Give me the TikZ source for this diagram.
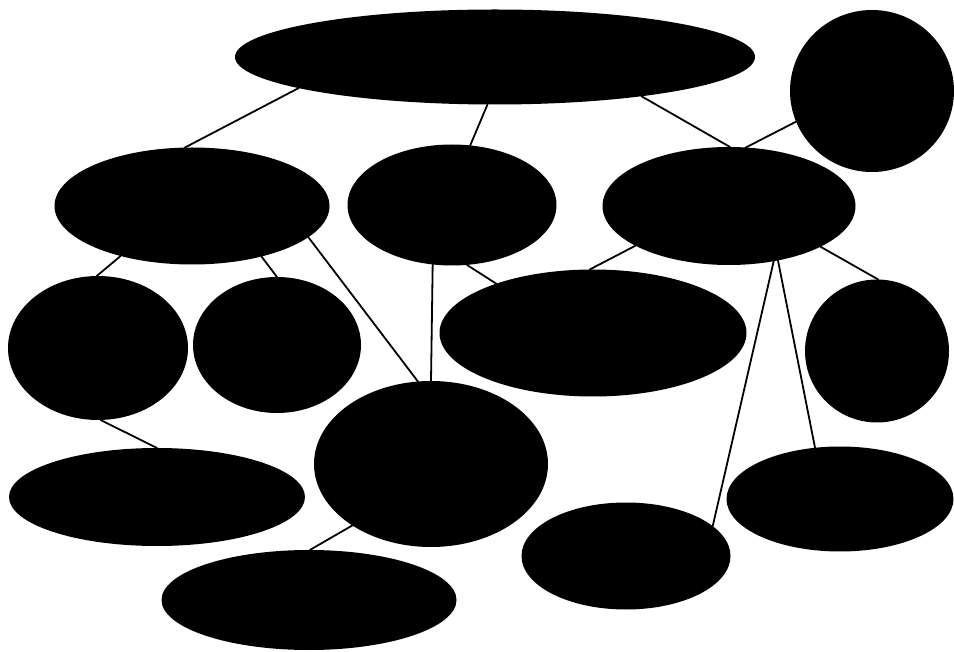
\documentclass[tikz,border=0pt]{standalone}
\usetikzlibrary{shapes.geometric}
\tikzset{blob/.style={
  ellipse,fill=black,inner sep=0pt,outer sep=0pt
},
link/.style={line width=1.8pt,line cap=round}}

\begin{document}
\begin{tikzpicture}[x=1pt,y=1pt]
  \useasboundingbox (0,0) rectangle (954,-652);

  \node[blob,minimum width=520pt,minimum height=95pt] (top) at (495,-57) {};
  \node[blob,minimum width=164pt,minimum height=162pt] (corner) at (872,-91) {};
  \node[blob,minimum width=275pt,minimum height=117pt] (left) at (192,-206) {};
  \node[blob,minimum width=209pt,minimum height=121pt] (mid) at (452,-205) {};
  \node[blob,minimum width=253pt,minimum height=118pt] (right) at (729,-206) {};
  \node[blob,minimum width=180pt,minimum height=144pt] (leftA) at (98,-348) {};
  \node[blob,minimum width=168pt,minimum height=136pt] (leftB) at (277,-345) {};
  \node[blob,minimum width=307pt,minimum height=127pt] (wide) at (593,-333) {};
  \node[blob,minimum width=144pt,minimum height=143pt] (side) at (877,-351) {};
  \node[blob,minimum width=234pt,minimum height=166pt] (centre) at (431,-464) {};
  \node[blob,minimum width=296pt,minimum height=98pt] (botleft) at (157,-497) {};
  \node[blob,minimum width=227pt,minimum height=105pt] (botright) at (840,-499) {};
  \node[blob,minimum width=209pt,minimum height=107pt] (botmid) at (626,-556) {};
  \node[blob,minimum width=295pt,minimum height=100pt] (bottom) at (309,-600) {};

  \draw[link] (top.189) -- (left.97);
  \draw[link] (top.261) -- (mid.73);
  \draw[link] (top.-15) -- (right.89);
  \draw[link] (corner.202.6) -- (right.74.6);
  \draw[link] (left.215) -- (leftA.91);
  \draw[link] (left.-36.9) -- (leftB.90);
  \draw[link] (left.-15.7) -- (centre.99.8);
  \draw[link] (mid.-108) -- (centre.90);
  \draw[link] (mid.-76.4) -- (wide.153);
  \draw[link] (right.203.6) -- (wide.93);
  \draw[link] (right.-24) -- (side.89);
  \draw[link] (right.-51.8) -- (botmid.19.8);
  \draw[link] (right.-48.2) -- (botright.116);
  \draw[link] (leftA.-88) -- (botleft.90);
  \draw[link] (centre.218.6) -- (bottom.89);
\end{tikzpicture}
\end{document}
